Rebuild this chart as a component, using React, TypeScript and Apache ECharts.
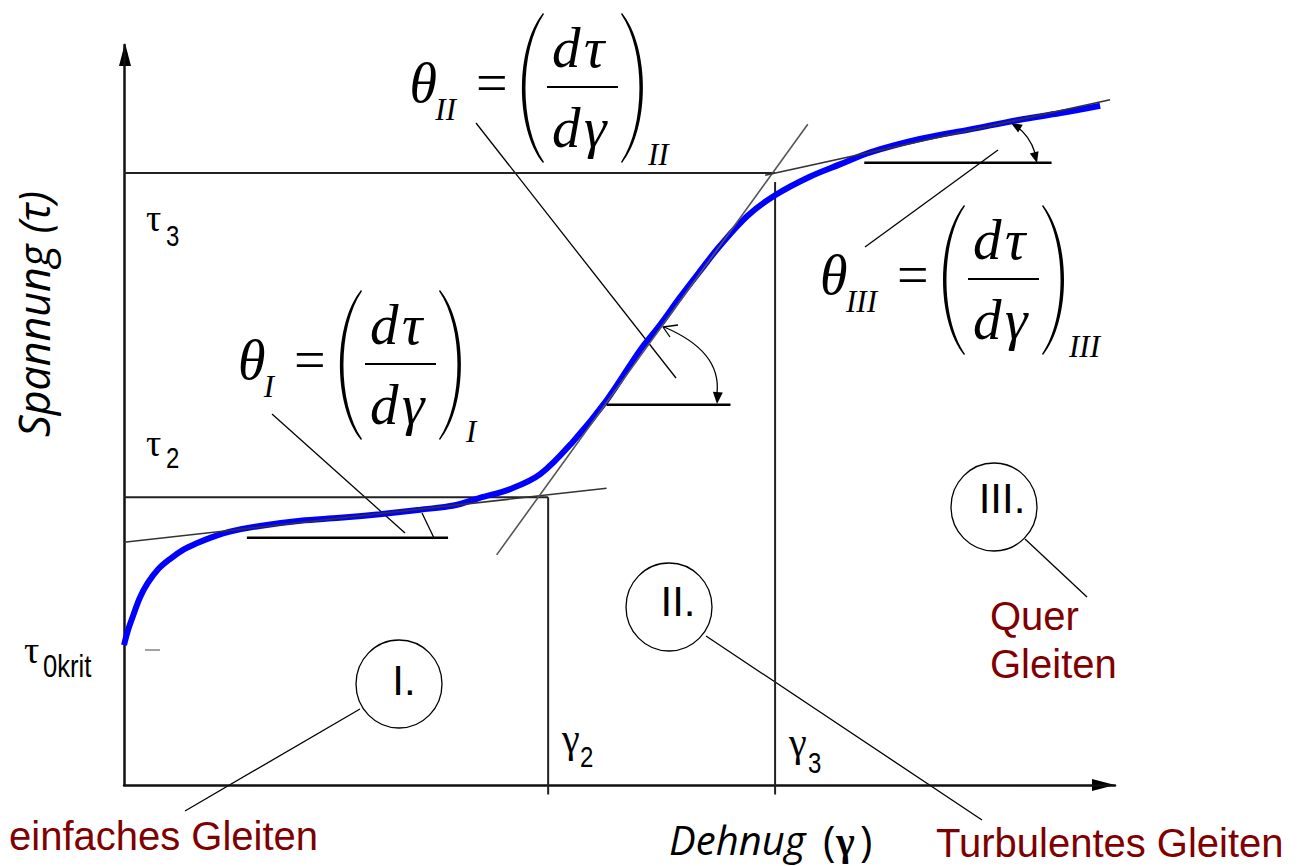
import React, { useEffect, useRef } from "react";
import * as echarts from "echarts";

// Flow curve of a single crystal: shear strain γ (x) vs. resolved shear stress τ (y), both 0..100
const strain = [0, 0.4, 0.9, 1.6, 2.4, 3.4, 4.6, 6.0, 7.4, 8.9, 10.9, 13.7, 17.8, 21.8, 25.8, 29.9, 33.4, 35.9, 39.0, 42.0, 45.3, 48.7, 52.1, 54.1, 56.1, 58.1, 60.1, 62.9, 65.7, 69.2, 72.3, 75.3, 80.3, 85.4, 90.4, 94.5, 98.5];
const stress = [18.9, 20.9, 22.8, 25.3, 27.3, 29.1, 30.5, 31.8, 32.7, 33.5, 34.3, 35.0, 35.7, 36.1, 36.6, 37.2, 37.8, 38.8, 40.0, 42.0, 46.4, 52.0, 58.8, 62.2, 65.9, 69.4, 72.8, 76.9, 79.7, 82.2, 83.9, 85.5, 87.3, 88.6, 89.9, 90.8, 91.8];

// Stage boundaries
const tau2 = 38.9;
const tau3 = 82.7;
const gamma2 = 42.8;
const gamma3 = 65.7;

// Tangents of the three hardening stages and their horizontal reference lines
const tangentI = [[0, 32.8], [48.7, 40.1]];
const tangentII = [[37.6, 31.1], [69.0, 89.3]];
const tangentIII = [[64.7, 82.4], [99.5, 92.6]];
const baseI = [[12.4, 33.4], [32.7, 33.4]];
const baseII = [[48.7, 51.4], [61.2, 51.4]];
const baseIII = [[74.7, 84.1], [93.6, 84.1]];

const stageLabels = ["I.", "II.", "III."];
const stageNames = ["einfaches Gleiten", "Turbulentes Gleiten", "Quer", "Gleiten"];

const SERIF = '"Liberation Serif","Times New Roman",serif';
const SANS = '"Liberation Sans",Arial,sans-serif';
const ITAL = '"Open Sans","Noto Sans",sans-serif';
const RED = "#7f0000";

echarts.graphic.registerShape(
  "lparen",
  echarts.graphic.extendPath("M21,0 C-7,35 -7,115 21,150 L22,149 C-2.7,113 -2.7,37 22,1 Z", {})
);
echarts.graphic.registerShape(
  "rparen",
  echarts.graphic.extendPath("M2,0 C30,35 30,115 2,150 L1,149 C25.7,113 25.7,37 1,1 Z", {})
);

type TOpt = { italic?: boolean; bold?: boolean; family?: string; color?: string; align?: string; extra?: any };
function txt(x: number, y: number, text: string, size: number, o: TOpt = {}) {
  return {
    type: "text",
    x,
    y,
    ...(o.extra || {}),
    style: {
      text,
      fontSize: size,
      fontFamily: o.family || SERIF,
      fontStyle: o.italic ? "italic" : "normal",
      fontWeight: o.bold ? "bold" : "normal",
      fill: o.color || "#000",
      align: o.align || "left",
      verticalAlign: "middle",
    },
  };
}

function seg(x1: number, y1: number, x2: number, y2: number, w = 1.3, c = "#000") {
  return { type: "line", shape: { x1, y1, x2, y2 }, style: { stroke: c, lineWidth: w } };
}

function formula(left: number, top: number, sub: string) {
  const subW = 10.5 * sub.length + 2;
  return {
    type: "group",
    x: left,
    y: top,
    children: [
      txt(-66 - subW + 4, 70, "θ", 56, { italic: true, align: "right" }),
      txt(-66, 96, sub, 31, { italic: true, align: "right" }),
      txt(-46, 70, "=", 56),
      { type: "lparen", x: 0, y: 0, style: { fill: "#000" } },
      txt(30, 34, "d", 57, { italic: true }),
      txt(62, 34, "τ", 57, { italic: true }),
      seg(25, 74, 96, 74, 2),
      txt(30, 114, "d", 57, { italic: true }),
      txt(62, 114, "γ", 57, { italic: true }),
      { type: "rparen", x: 98, y: 0, style: { fill: "#000" } },
      txt(126, 141, sub, 31, { italic: true }),
    ],
  };
}

function arrowHead(tx: number, ty: number, fx: number, fy: number, len = 11, half = 4.5) {
  const dx = tx - fx;
  const dy = ty - fy;
  const n = Math.hypot(dx, dy);
  const ux = dx / n;
  const uy = dy / n;
  const bx = tx - ux * len;
  const by = ty - uy * len;
  return {
    type: "polygon",
    shape: { points: [[tx, ty], [bx - uy * half, by + ux * half], [bx + uy * half, by - ux * half]] },
    style: { fill: "#000" },
  };
}

function lineSeries(data: number[][], color: string, width: number, z: number) {
  return {
    type: "line",
    data,
    symbol: "none",
    clip: false,
    silent: true,
    z,
    lineStyle: { color, width },
  };
}

export default function App() {
  const ref = useRef<HTMLDivElement>(null);

  useEffect(() => {
    if (!ref.current) return;
    const chart = echarts.init(ref.current, null, { renderer: "svg" });
    const curve = strain.map((g, i) => [g, stress[i]]);

    chart.setOption({
      animation: false,
      backgroundColor: "#fff",
      grid: { left: 124, right: 184, top: 45, bottom: 81 },
      xAxis: {
        type: "value",
        min: 0,
        max: 100,
        axisLine: { show: true, lineStyle: { color: "#111", width: 2.5 } },
        axisTick: { show: false },
        axisLabel: { show: false },
        splitLine: { show: false },
      },
      yAxis: {
        type: "value",
        min: 0,
        max: 100,
        axisLine: { show: true, lineStyle: { color: "#111", width: 2.5 } },
        axisTick: { show: false },
        axisLabel: { show: false },
        splitLine: { show: false },
      },
      series: [
        lineSeries([[0, tau3], [gamma3, tau3]], "#222", 2, 1),
        lineSeries([[gamma3, 81.5], [gamma3, -1.3]], "#222", 2, 1),
        lineSeries([[0, tau2], [gamma2, tau2]], "#222", 2, 1),
        lineSeries([[gamma2, tau2], [gamma2, -1.3]], "#222", 2, 1),
        {
          type: "line",
          data: curve,
          symbol: "none",
          smooth: 0.35,
          z: 2,
          lineStyle: { color: "#0000ff", width: 6 },
        },
        lineSeries(tangentI, "#333", 1.6, 3),
        lineSeries(tangentII, "#555", 1.6, 3),
        lineSeries(tangentIII, "#333", 1.6, 3),
        lineSeries(baseI, "#000", 2.5, 3),
        lineSeries(baseII, "#000", 2.5, 3),
        lineSeries(baseIII, "#000", 2.5, 3),
      ],
      graphic: [
        // axis arrow heads
        { type: "polygon", shape: { points: [[119, 66], [131, 66], [125, 43]] }, style: { fill: "#000" } },
        { type: "polygon", shape: { points: [[1092, 779], [1092, 791], [1115, 785]] }, style: { fill: "#000" } },

        // axis titles
        {
          type: "text",
          x: 33,
          y: 314,
          rotation: Math.PI / 2,
          style: {
            text: "Spannung (τ)",
            fontSize: 43,
            fontFamily: ITAL,
            fontStyle: "italic",
            fill: "#000",
            align: "center",
            verticalAlign: "middle",
          },
        },
        txt(669, 839, "Dehnug", 40, { italic: true, family: ITAL }),
        txt(823, 839, "(", 42, { family: ITAL }),
        txt(836, 841, "γ", 40, { family: SERIF, bold: true }),
        txt(860, 839, ")", 42, { family: ITAL }),

        // level / strain markers
        txt(146, 218, "τ", 38),
        txt(166, 236, "3", 30, { family: SANS, extra: { scaleX: 0.8 } }),
        txt(146, 443, "τ", 38),
        txt(166, 458, "2", 30, { family: SANS, extra: { scaleX: 0.8 } }),
        txt(24, 650, "τ", 38),
        txt(43, 666, "0krit", 32, { family: SANS, extra: { scaleX: 0.8 } }),
        seg(145, 650, 160, 650, 1, "#444"),
        txt(562, 738, "γ", 40),
        txt(580, 757, "2", 30, { family: SANS, extra: { scaleX: 0.8 } }),
        txt(789, 742, "γ", 40),
        txt(808, 763, "3", 30, { family: SANS, extra: { scaleX: 0.8 } }),

        // slope formulas
        formula(340, 290, "I"),
        formula(522, 13, "II"),
        formula(943, 205, "III"),

        // leaders from formulas to their angles
        seg(272, 414, 405, 533),
        seg(422, 513, 434, 538),
        seg(476, 123, 676, 378),
        seg(998, 150, 865, 247),

        // angle arrows
        {
          type: "bezierCurve",
          shape: { x1: 664, y1: 327, cpx1: 702, cpy1: 343, cpx2: 720, cpy2: 365, x2: 717, y2: 393 },
          style: { stroke: "#000", lineWidth: 1.3, fill: "none" },
        },
        arrowHead(717, 404, 718, 390, 12, 5),
        seg(663, 327, 678, 325),
        seg(663, 327, 670, 337),
        {
          type: "bezierCurve",
          shape: { x1: 1016, y1: 126, cpx1: 1030, cpy1: 136, x2: 1035, y2: 153 },
          style: { stroke: "#000", lineWidth: 1.3, fill: "none" },
        },
        arrowHead(1011, 123, 1026, 132, 11, 4.5),
        arrowHead(1037, 163, 1033, 148, 11, 4.5),

        // stage circles
        { type: "ellipse", shape: { cx: 399, cy: 684, rx: 43, ry: 44 }, style: { stroke: "#000", lineWidth: 1.3, fill: "none" } },
        { type: "ellipse", shape: { cx: 669, cy: 607, rx: 43, ry: 44 }, style: { stroke: "#000", lineWidth: 1.3, fill: "none" } },
        { type: "ellipse", shape: { cx: 994, cy: 507, rx: 43, ry: 44 }, style: { stroke: "#000", lineWidth: 1.3, fill: "none" } },
        txt(404, 680, stageLabels[0], 42, { family: SANS, align: "center" }),
        txt(678, 601, stageLabels[1], 42, { family: SANS, align: "center" }),
        txt(1002, 498, stageLabels[2], 42, { family: SANS, align: "center" }),

        // leaders to stage names
        seg(360, 709, 185, 811),
        seg(706, 636, 982, 820),
        seg(1025, 539, 1087, 597),

        txt(9, 836, stageNames[0], 40, { family: SANS, color: RED }),
        txt(936, 843, stageNames[1], 40, { family: SANS, color: RED }),
        txt(990, 616, stageNames[2], 40, { family: SANS, color: RED }),
        txt(990, 664, stageNames[3], 40, { family: SANS, color: RED }),
      ],
    });

    return () => chart.dispose();
  }, []);

  return (
    <div
      ref={ref}
      style={{ position: "fixed", left: 0, top: 0, width: 1299, height: 866, background: "#fff" }}
    />
  );
}
